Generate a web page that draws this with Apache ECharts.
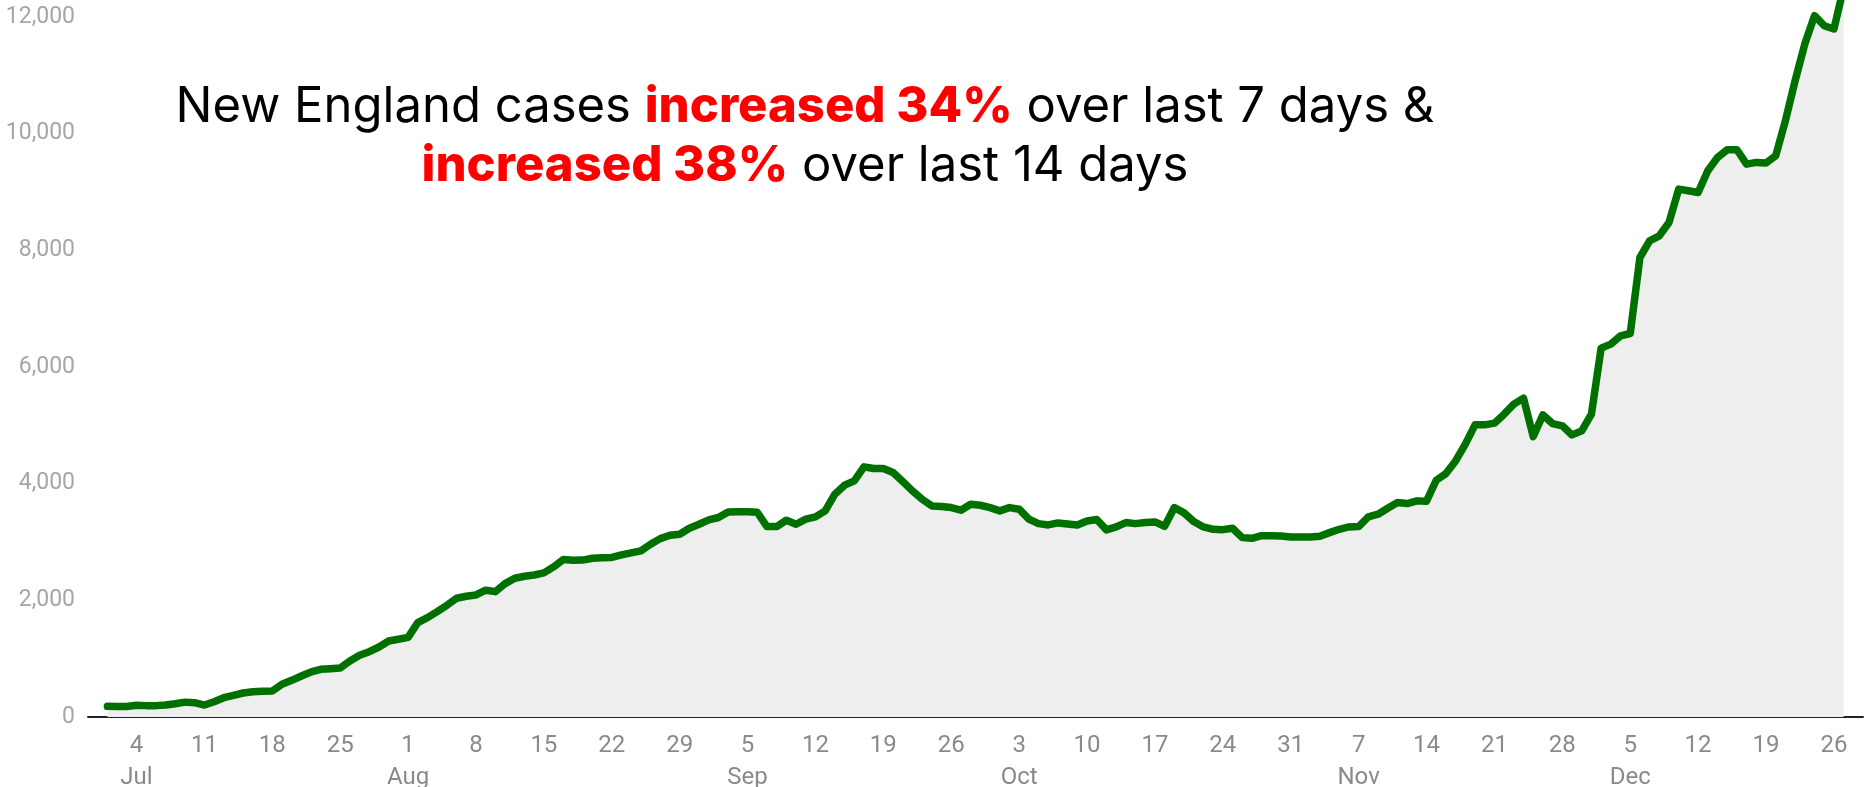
<!DOCTYPE html>
<html>
<head>
<meta charset="utf-8">
<script src="https://cdn.jsdelivr.net/npm/echarts@6/dist/echarts.min.js"></script>
<style>
html,body{margin:0;padding:0;background:#fff;}
#chart{width:1864px;height:787px;}
</style>
</head>
<body>
<div id="chart"></div>
<script>
// Axis covers Jun 29 – Dec 29 2020; data runs Jul 1 – Dec 27
var axisStart = [2020, 5, 29];   // Jun 29 (month 0-based)
var axisDays = 184;
var leadingEmpty = 2;             // Jun 29, Jun 30 have no data
var monthNames = ['Jan','Feb','Mar','Apr','May','Jun','Jul','Aug','Sep','Oct','Nov','Dec'];
var firstTickIndex = 5;           // Jul 4
var tickStep = 7;

// Daily values (7-day average), Jul 1 – Dec 27
var casesJul = [183,178,180,200,195,195,205,228,255,245,205,262,331,372,411,434,440,445,561,629,703,772,818,829,840,960,1058,1120,1200,1303,1333];
var casesAug = [1365,1617,1703,1806,1915,2035,2070,2092,2173,2149,2286,2378,2413,2435,2470,2573,2698,2687,2690,2721,2730,2735,2778,2813,2847,2961,3058,3116,3133,3236,3305];
var casesSep = [3380,3420,3516,3520,3520,3510,3264,3264,3373,3305,3391,3430,3533,3819,3974,4047,4288,4259,4259,4190,4036,3876,3733,3619,3610,3590,3545,3648,3630,3590];
var casesOct = [3533,3590,3562,3391,3315,3293,3327,3310,3293,3361,3385,3207,3258,3333,3315,3333,3344,3270,3590,3499,3350,3258,3218,3212,3236,3075,3064,3109,3109,3103,3087];
var casesNov = [3087,3087,3100,3161,3218,3258,3264,3430,3476,3579,3676,3659,3705,3700,4059,4173,4390,4677,5008,5008,5037,5191,5363,5466,4807,5179,5030,4991,4836,4905];
var casesDec = [5191,6323,6392,6534,6574,7877,8163,8249,8478,9049,9021,8992,9364,9592,9724,9724,9478,9507,9496,9621,10222,10907,11537,12022,11851,11794,12500];

var yMin = 0, yMax = 12000, yStep = 2000;

var headline1 = [['n','New England cases '],['r','increased 34%'],['n',' over last 7 days &']];
var headline2 = [['r','increased 38%'],['n',' over last 14 days']];

// ---- build
var dates = [];
for (var i = 0; i < axisDays; i++) {
  dates.push(new Date(axisStart[0], axisStart[1], axisStart[2] + i));
}
var categories = dates.map(function (d) { return (d.getMonth()+1) + '/' + d.getDate(); });
var values = [];
for (var k = 0; k < leadingEmpty; k++) values.push(null);
values = values.concat(casesJul, casesAug, casesSep, casesOct, casesNov, casesDec);

function isTick(idx) { return idx >= firstTickIndex && (idx - firstTickIndex) % tickStep === 0; }
var seenMonth = {};
var labelFor = {};
for (var j = 0; j < axisDays; j++) {
  if (isTick(j)) {
    var d = dates[j];
    var m = d.getMonth();
    var s = String(d.getDate());
    if (!seenMonth[m]) { seenMonth[m] = true; s += '\n' + monthNames[m]; }
    labelFor[j] = s;
  }
}
function richLine(parts) { return parts.map(function (p) { return '{' + p[0] + '|' + p[1] + '}'; }).join(''); }

var chart = echarts.init(document.getElementById('chart'), null, {renderer: 'canvas'});
var titleFont = 'Inter';
var titleSize = 49;
var rich = {
  n: {fontFamily: titleFont, fontSize: titleSize, fontWeight: 400, fill: '#000', color: '#000'},
  r: {fontFamily: titleFont, fontSize: titleSize, fontWeight: 800, fill: '#ff0000', color: '#ff0000'}
};
chart.setOption({
  animation: false,
  backgroundColor: '#ffffff',
  grid: {left: 88, right: 1, top: 17, bottom: 70, containLabel: false, outerBoundsMode: 'none'},
  xAxis: {
    type: 'category',
    data: categories,
    boundaryGap: false,
    axisLine: {show: true, lineStyle: {color: '#222', width: 2}},
    axisTick: {show: false},
    splitLine: {show: false},
    axisLabel: {
      interval: function (idx) { return isTick(idx); },
      formatter: function (v, idx) { return labelFor[idx] || ''; },
      color: '#8a8a8a', fontFamily: 'Roboto', fontSize: 24, lineHeight: 32, margin: 13
    }
  },
  yAxis: {
    type: 'value',
    min: yMin, max: yMax, interval: yStep,
    axisLine: {show: false},
    axisTick: {show: false},
    splitLine: {show: false},
    axisLabel: {
      color: '#a6a6a6', fontFamily: 'Roboto', fontSize: 23, margin: 13,
      formatter: function (v) { return v.toLocaleString('en-US'); }
    }
  },
  series: [{
    type: 'line',
    data: values,
    clip: false,
    showSymbol: false,
    symbol: 'none',
    connectNulls: false,
    lineStyle: {color: '#007000', width: 7.5, cap: 'round', join: 'round'},
    areaStyle: {color: '#eeeeee', opacity: 1},
    z: 2
  }],
  graphic: [
    {type: 'text', x: 805, y: 107, z: 10,
     style: {text: richLine(headline1), rich: rich, align: 'center', verticalAlign: 'middle', font: titleSize + 'px ' + titleFont}},
    {type: 'text', x: 805, y: 166, z: 10,
     style: {text: richLine(headline2), rich: rich, align: 'center', verticalAlign: 'middle', font: titleSize + 'px ' + titleFont}}
  ]
});
</script>
</body>
</html>
